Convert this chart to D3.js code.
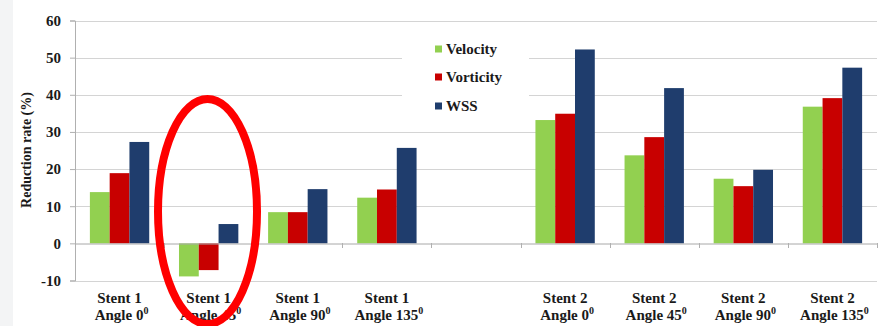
<!DOCTYPE html>
<html><head><meta charset="utf-8">
<script src="https://cdn.jsdelivr.net/npm/d3@7"></script>
<style>
html,body{margin:0;padding:0;background:#fff;}
svg{display:block;}
text{font-family:"Liberation Serif","Times New Roman",serif;font-weight:bold;fill:#1a1a1a;}
</style></head>
<body><svg id="c" width="881" height="326"></svg>
<script>
// Data
const stents = ["Stent 1","Stent 1","Stent 1","Stent 1","","Stent 2","Stent 2","Stent 2","Stent 2"];
const angles = ["0","45","90","135","","0","45","90","135"];
const seriesNames = ["Velocity","Vorticity","WSS"];
const velocity  = [13.8, -8.9, 8.4, 12.3, null, 33.2, 23.7, 17.4, 36.8];
const vorticity = [18.9, -7.2, 8.4, 14.5, null, 34.9, 28.6, 15.4, 39.1];
const wss       = [27.3,  5.2, 14.6, 25.7, null, 52.2, 41.8, 19.8, 47.3];
const yTicks = [-10, 0, 10, 20, 30, 40, 50, 60];
const colors = ["#92d050", "#c80000", "#1f3d6d"];

const svg = d3.select("#c");
const L = 75, R = 877, T = 20.5, B = 280.5;
const idx = d3.range(stents.length);
const x0 = d3.scaleBand().domain(idx).range([L, R]).padding(0);
const bw = x0.bandwidth() * 0.222;
const x1 = d3.scaleBand().domain(seriesNames).range([0, bw * 3]);
const y = d3.scaleLinear().domain([-10, 60]).range([B, T]);

// faint left strip
svg.append("rect").attr("x",0).attr("y",0).attr("width",13).attr("height",326).attr("fill","#f3f4f5");

// gridlines
svg.append("g").selectAll("line").data(yTicks.filter(d => d !== 0)).join("line")
  .attr("x1", L).attr("x2", R)
  .attr("y1", d => Math.round(y(d)) + 0.5).attr("y2", d => Math.round(y(d)) + 0.5)
  .attr("stroke", "#d4d4d4").attr("stroke-width", 1);

// legend background hides part of gridlines
svg.append("rect").attr("x", 402).attr("y", 36).attr("width", 127).attr("height", 84).attr("fill", "#fff");

// y axis
const yAxis = d3.axisLeft(y).tickValues(yTicks).tickSize(5).tickPadding(9).tickFormat(d => String(d));
const gy = svg.append("g").attr("transform", `translate(${L},0)`).call(yAxis);
gy.attr("font-family", null);
gy.select(".domain").attr("stroke", "#b0b0b0");
gy.selectAll(".tick line").attr("stroke", "#b0b0b0");
gy.selectAll(".tick text").attr("font-size", 15).attr("fill", "#1a1a1a");

// bars
const series = [velocity, vorticity, wss];
series.forEach((vals, si) => {
  svg.append("g").selectAll("rect").data(idx.filter(i => vals[i] !== null)).join("rect")
    .attr("x", i => x0(i) + (x0.bandwidth() - bw * 3) / 2 + x1(seriesNames[si]))
    .attr("width", x1.bandwidth())
    .attr("y", i => y(Math.max(0, vals[i])))
    .attr("height", i => Math.abs(y(vals[i]) - y(0)))
    .attr("fill", colors[si]);
});

// zero axis with category ticks
const xAxis = d3.axisBottom(x0).tickValues([]).tickSize(0);
const gx = svg.append("g").attr("transform", `translate(0,${Math.round(y(0)) + 0.5})`).call(xAxis);
gx.select(".domain").attr("stroke", "#a8a8a8");
svg.append("g").selectAll("line").data(d3.range(1, stents.length + 1)).join("line")
  .attr("x1", i => Math.round(L + i * x0.step()) + 0.5).attr("x2", i => Math.round(L + i * x0.step()) + 0.5)
  .attr("y1", Math.round(y(0))).attr("y2", Math.round(y(0)) + 5)
  .attr("stroke", "#b0b0b0");

// category labels
const cl = svg.append("g").selectAll("text").data(idx.filter(i => stents[i] !== "")).join("text")
  .attr("text-anchor", "middle").attr("font-size", 15);
cl.append("tspan").attr("x", i => x0(i) + x0.bandwidth() / 2).attr("y", 303).text(i => stents[i]);
const l2 = cl.append("tspan").attr("x", i => x0(i) + x0.bandwidth() / 2 + 2).attr("y", 320);
l2.append("tspan").text(i => "Angle " + angles[i]);
l2.append("tspan").attr("font-size", 10).attr("dy", -6).text("0");

// y title
svg.append("text").attr("transform", "translate(31,150) rotate(-90)")
  .attr("text-anchor", "middle").attr("font-size", 14).text("Reduction rate (%)");

// legend
const lg = svg.append("g").selectAll("g").data(seriesNames).join("g")
  .attr("transform", (d, i) => `translate(435,${[49, 77, 106][i]})`);
lg.append("rect").attr("x", 0).attr("y", -3.5).attr("width", 7).attr("height", 7).attr("fill", (d, i) => colors[i]);
lg.append("text").attr("x", 11).attr("y", 5).attr("font-size", 15).text(d => d);

// red ellipse annotation
svg.append("ellipse").attr("cx", 207.5).attr("cy", 211.5).attr("rx", 49.5).attr("ry", 112.5)
  .attr("fill", "none").attr("stroke", "#ff0000").attr("stroke-width", 8);
</script></body></html>
